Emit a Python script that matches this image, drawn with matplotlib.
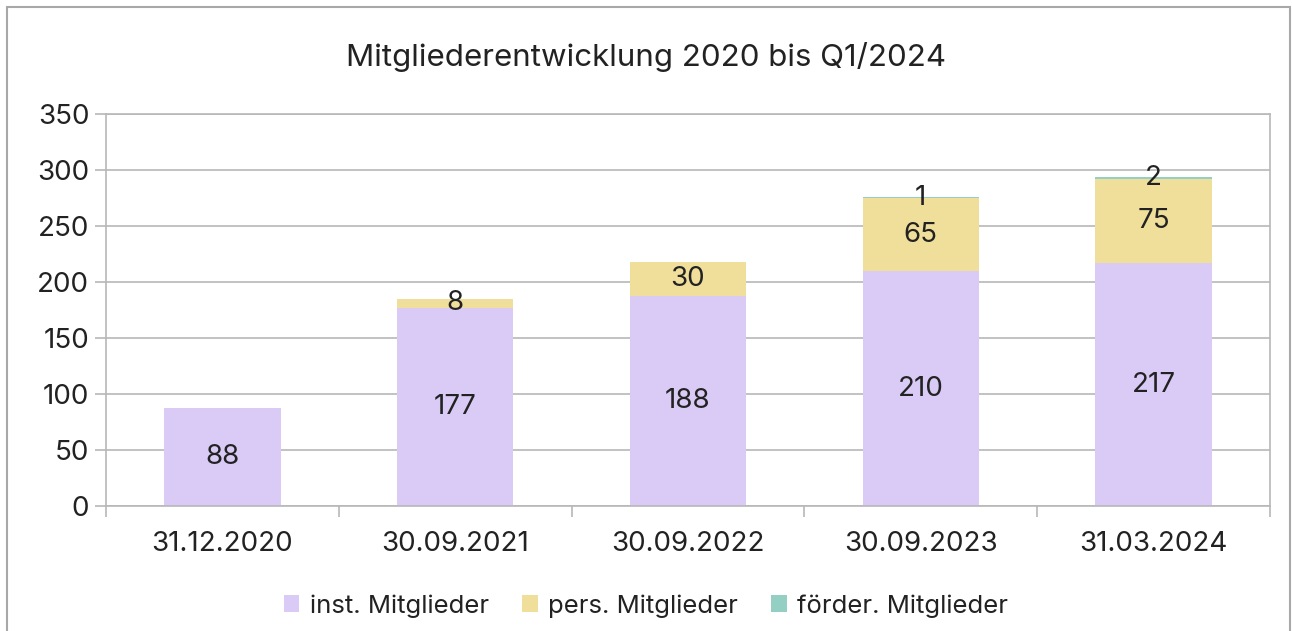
import matplotlib.pyplot as plt
from matplotlib.patches import Rectangle
import numpy as np

plt.rcParams['font.family'] = ['Inter', 'DejaVu Sans']

dates = ["31.12.2020", "30.09.2021", "30.09.2022", "30.09.2023", "31.03.2024"]
inst = [88, 177, 188, 210, 217]
pers = [0, 8, 30, 65, 75]
foerder = [0, 0, 0, 1, 2]

series = [
    ("inst. Mitglieder", inst, "#d9cbf5"),
    ("pers. Mitglieder", pers, "#f0de9b"),
    ("förder. Mitglieder", foerder, "#93cfc2"),
]

fig = plt.figure(figsize=(12.92, 6.31), dpi=100)
ax = fig.add_axes([0.082, 0.198, 0.901, 0.621])

x = np.arange(len(dates))
bottom = np.zeros(len(dates))
for name, vals, color in series:
    vals = np.array(vals, dtype=float)
    ax.bar(x, vals, 0.5, bottom=bottom, color=color, label=name, zorder=2)
    for xi, b, v in zip(x, bottom, vals):
        if v > 0:
            ax.text(xi, b + v / 2, str(int(v)), ha="center", va="center",
                    fontsize=20, color="#222222", zorder=3)
    bottom += vals

ax.set_xlim(-0.5, len(dates) - 0.5)
ax.set_ylim(0, 350)
ax.set_yticks(range(0, 351, 50))
ax.yaxis.grid(True, color="#b8b8b8", linewidth=1.2, zorder=0)
ax.set_axisbelow(True)

ax.set_xticks(x)
ax.set_xticklabels(dates)
ax.set_xticks(np.arange(-0.5, len(dates)), minor=True)
ax.tick_params(axis="x", which="major", length=0, pad=18, labelsize=20, colors="#222222")
ax.tick_params(axis="x", which="minor", length=8, color="#b8b8b8", width=1.2)
ax.tick_params(axis="y", length=8, color="#b8b8b8", width=1.2, labelsize=20,
               labelcolor="#222222", pad=4)

for s in ["top", "right", "left", "bottom"]:
    ax.spines[s].set_color("#b8b8b8")
    ax.spines[s].set_linewidth(1.2)

fig.suptitle("Mitgliederentwicklung 2020 bis Q1/2024", y=1 - 57 / 631, va="center",
             fontsize=22.5, color="#222222")

fig.legend(loc="center", bbox_to_anchor=(0.5, 0.04), ncol=3, frameon=False,
           fontsize=18.5, handlelength=0.6, handleheight=0.6, handletextpad=0.4,
           columnspacing=1.3, labelcolor="#222222")

fig.patches.append(Rectangle((7 / 1292, -0.1), (1290 - 7) / 1292, 1.1 - 7 / 631,
                             transform=fig.transFigure, fill=False,
                             edgecolor="#a8a8a8", linewidth=1.5))

fig.savefig("out.png", dpi=100)
